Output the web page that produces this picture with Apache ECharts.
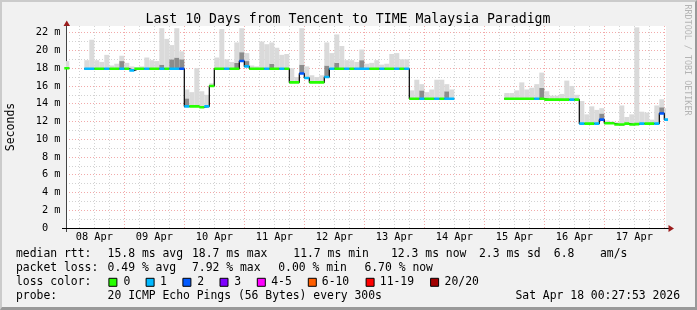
<!DOCTYPE html>
<html><head><meta charset="utf-8">
<script src="https://cdn.jsdelivr.net/npm/echarts@6/dist/echarts.min.js"></script>
<style>
html,body{margin:0;padding:0;background:#f1f1f1;}
#frame{position:absolute;left:0;top:0;width:697px;height:310px;box-sizing:border-box;border-top:2px solid #cbcbcb;border-left:2px solid #cbcbcb;border-right:2px solid #999;border-bottom:3px solid #999;background:#f1f1f1;}
#c{position:absolute;left:0;top:0;width:697px;height:310px;}
</style>
</head><body><div id="frame"></div><div id="c"></div>
<script>
// ---- data: 2-hour bins starting 08 Apr 00:00 (hours since then) ----
const binHours = 2;
const median = [
 18.0, null, null, null, 17.93, 17.93, 17.93, 17.93, 17.93, 17.93, 17.93, 17.93,
 17.93, 17.75, 17.93, 17.93, 17.93, 17.93, 17.93, 17.93, 17.93, 17.93, 17.93, 17.93,
 13.7, 13.7, 13.7, 13.6, 13.7, 16.0, 17.93, 17.93, 17.93, 17.93, 17.93, 18.8,
 18.2, 17.93, 17.93, 17.93, 17.93, 17.93, 17.93, 17.93, 17.93, 16.4, 16.4, 17.4,
 16.9, 16.4, 16.4, 16.4, 17.0, 17.93, 17.93, 17.93, 17.93, 17.93, 17.93, 17.93,
 17.93, 17.93, 17.93, 17.93, 17.93, 17.93, 17.93, 17.93, 17.93, 14.55, 14.55, 14.55,
 14.55, 14.55, 14.55, 14.55, 14.55, 14.55, null, null, null, null, null, null,
 null, null, null, null, 14.55, 14.55, 14.55, 14.55, 14.55, 14.55, 14.55, 14.55,
 14.46, 14.46, 14.46, 14.46, 14.46, 14.46, 14.46, 11.75, 11.75, 11.75, 11.75, 12.2,
 11.8, 11.8, 11.65, 11.65, 11.75, 11.65, 11.7, 11.75, 11.75, 11.75, 11.75, 12.9,
 12.2
];
const lossIdx = [
 0, 0, 0, 0, 1, 1, 0, 0, 1, 0, 0, 1,
 0, 1, 0, 0, 1, 0, 0, 1, 0, 1, 1, 2,
 1, 0, 0, 0, 1, 0, 0, 0, 1, 0, 0, 2,
 1, 0, 0, 0, 1, 0, 0, 1, 0, 0, 0, 2,
 1, 0, 0, 0, 1, 1, 0, 0, 1, 0, 1, 1,
 1, 0, 0, 1, 0, 0, 1, 0, 1, 0, 0, 1,
 0, 0, 1, 0, 1, 1, 0, 0, 0, 0, 0, 0,
 0, 0, 0, 0, 0, 0, 0, 0, 0, 0, 1, 0,
 0, 0, 0, 0, 0, 1, 0, 1, 0, 0, 1, 2,
 0, 0, 0, 0, 0, 0, 0, 1, 0, 0, 1, 2,
 1
];
const smokeMax = [
 18.8, null, null, null, 18.9, 21.2, 18.9, 18.7, 19.5, 18.3, 18.5, 19.4,
 18.6, 18.2, 18.1, 18.2, 19.2, 18.9, 18.8, 22.5, 21.3, 20.6, 22.5, 19.9,
 15.6, 15.3, 18.0, 15.4, 15.0, 16.3, 19.2, 22.4, 19.0, 18.7, 20.9, 22.5,
 19.7, 18.3, 18.2, 21.0, 20.7, 20.9, 20.3, 19.5, 19.6, 18.0, 17.0, 22.5,
 18.2, 17.2, 17.0, 17.2, 20.9, 19.7, 21.8, 20.5, 18.9, 18.9, 18.7, 20.1,
 18.5, 18.6, 18.9, 18.4, 18.5, 19.6, 19.7, 19.0, 19.0, 15.5, 16.7, 16.2,
 15.3, 15.6, 16.7, 16.7, 16.2, 15.6, null, null, null, null, null, null,
 null, null, null, null, 15.2, 15.2, 15.5, 16.4, 15.6, 15.8, 16.2, 17.5,
 15.4, 14.9, 14.9, 15.1, 16.6, 16.0, 15.0, 14.3, 12.8, 13.7, 13.3, 13.5,
 12.1, 12.0, 11.9, 13.8, 12.5, 12.8, 22.6, 13.1, 13.0, 12.2, 13.8, 14.5,
 13.5
];
const smokeDark = [
 0, 0, 0, 0, 0, 0, 0, 0, 0, 0, 0, 18.8,
 0, 0, 0, 0, 0, 0, 0, 18.4, 0, 19.0, 19.2, 19.0,
 14.6, 0, 0, 0, 0, 0, 0, 0, 0, 0, 18.6, 19.8,
 18.8, 0, 0, 0, 0, 18.5, 0, 0, 0, 0, 0, 18.4,
 0, 0, 0, 0, 18.3, 0, 18.6, 0, 0, 0, 0, 18.9,
 0, 0, 0, 0, 0, 0, 0, 0, 0, 0, 0, 15.5,
 0, 0, 0, 0, 15.4, 0, 0, 0, 0, 0, 0, 0,
 0, 0, 0, 0, 0, 0, 0, 0, 0, 0, 0, 15.8,
 0, 0, 0, 0, 0, 0, 0, 0, 0, 0, 0, 12.9,
 0, 0, 0, 0, 0, 0, 0, 0, 0, 0, 0, 13.6,
 0
];
const lossColors = ['#26ff00', '#00b8ff', '#0059ff', '#7e00ff', '#ff00ff', '#ff5e00', '#ff0000', '#a10000'];
const lossLabels = ['0', '1', '2', '3', '4-5', '6-10', '11-19', '20/20'];
const xLabels = ['08 Apr', '09 Apr', '10 Apr', '11 Apr', '12 Apr', '13 Apr', '14 Apr', '15 Apr', '16 Apr', '17 Apr'];
const xLabelHours = [12, 36, 60, 84, 108, 132, 156, 180, 204, 228];
const dayLineHours = [24, 48, 72, 96, 120, 144, 168, 192, 216, 240];
const minorLineHours = [6, 12, 18, 30, 36, 42, 54, 60, 66, 78, 84, 90, 102, 108, 114, 126, 132, 138,
  150, 156, 162, 174, 180, 186, 198, 204, 210, 222, 228, 234];
const xMin = 0.68, xMax = 240.68;
const yMax = 22.75;
const titleText = 'Last 10 Days from Tencent to TIME Malaysia Paradigm';
const legendRows = [
  [[16, 'median rtt:'], [107.6, '15.8 ms avg'], [192, '18.7 ms max'], [293.3, '11.7 ms min'], [391, '12.3 ms now'], [479, '2.3 ms sd'], [553.8, '6.8'], [600, 'am/s']],
  [[16, 'packet loss:'], [107.6, '0.49 % avg'], [192, '7.92 % max'], [278.2, '0.00 % min'], [364.4, '6.70 % now']],
  [[16, 'loss color:']],
  [[16, 'probe:'], [107.6, '20 ICMP Echo Pings (56 Bytes) every 300s']]
];
const dateText = 'Sat Apr 18 00:27:53 2026';

// ---- build series ----
const MONO = 'DejaVu Sans Mono';
const MAJOR = '#f2aaaa', MINOR = '#d2d2d2';
const smokeD = [], stepD = [];
const colorD = lossColors.map(() => []);
median.forEach((m, k) => {
  const x0 = k * binHours;
  if (m == null) { stepD.push([x0, '-']); return; }
  const d = smokeDark[k] > m ? smokeDark[k] : m;
  smokeD.push([x0, m, d, Math.max(smokeMax[k], d)]);
  stepD.push([x0, m], [x0 + binHours, m]);
  colorD[lossIdx[k]].push([x0, m], [x0 + binHours, m], [x0 + binHours, '-']);
});
const vGrid = dayLineHours.map(h => [h, 1]).concat(minorLineHours.map(h => [h, 0]));

const series = [
  {
    type: 'custom', z: 1, silent: true, clip: false, data: vGrid,
    renderItem(params, api) {
      const x = api.value(0);
      const p0 = api.coord([x, 0]), p1 = api.coord([x, yMax]);
      const px = Math.round(p0[0]) + 0.5;
      return { type: 'line', shape: { x1: px, y1: p0[1], x2: px, y2: p1[1] },
        style: { stroke: api.value(1) ? MAJOR : MINOR, lineWidth: 1, lineDash: [1, 2] } };
    }
  },
  {
    type: 'custom', z: 2, silent: true, data: smokeD, encode: { x: 0, y: 3 },
    renderItem(params, api) {
      const cs = params.coordSys;
      const x0 = api.value(0), m = api.value(1), d = api.value(2), mx = api.value(3);
      const pM = api.coord([x0, m]), pD = api.coord([x0, d]), pX = api.coord([x0 + binHours, mx]);
      const left = Math.max(pM[0], cs.x), right = Math.min(pX[0], cs.x + cs.width);
      if (right <= left) return null;
      const kids = [];
      if (pM[1] - pD[1] > 0.01) kids.push({ type: 'rect', shape: { x: left, y: pD[1], width: right - left, height: pM[1] - pD[1] }, style: { fill: '#8c8c8c' } });
      if (pD[1] - pX[1] > 0.01) kids.push({ type: 'rect', shape: { x: left, y: pX[1], width: right - left, height: pD[1] - pX[1] }, style: { fill: '#dadada' } });
      return { type: 'group', children: kids };
    }
  },
  { type: 'line', z: 3, data: stepD, symbol: 'none', lineStyle: { color: '#000', width: 1.2 }, silent: true }
].concat(colorD.map((d, i) => ({
  type: 'line', z: 4, data: d, symbol: 'none', lineStyle: { color: lossColors[i], width: 2.6 }, silent: true
})));

// ---- graphics: texts, legend boxes, arrows ----
const graphics = [];
graphics.push({ type: 'text', x: 348, y: 19.5, style: { text: titleText, font: '13.2px "' + MONO + '"', fill: '#000', align: 'center', verticalAlign: 'middle' } });
graphics.push({ type: 'text', x: 11.5, y: 127, rotation: Math.PI / 2, style: { text: 'Seconds', font: '11.5px "' + MONO + '"', fill: '#000', align: 'center', verticalAlign: 'middle' } });
graphics.push({ type: 'text', x: 687, y: 60, rotation: -Math.PI / 2, style: { text: 'RRDTOOL / TOBI OETIKER', font: '8.4px "' + MONO + '"', fill: '#b4b4b4', align: 'center', verticalAlign: 'middle' } });
const rowY = [254.5, 268, 282.3, 296];
legendRows.forEach((row, r) => row.forEach(([x, t]) => graphics.push({
  type: 'text', x: x, y: rowY[r], style: { text: t, font: '11.4px "' + MONO + '"', fill: '#000', align: 'left', verticalAlign: 'middle' } })));
graphics.push({ type: 'text', x: 680, y: rowY[3], style: { text: dateText, font: '11.4px "' + MONO + '"', fill: '#000', align: 'right', verticalAlign: 'middle' } });
const boxX = [108.4, 145.6, 182.4, 219.5, 256.8, 307.8, 365.6, 430.1];
const boxLabelX = [123.5, 160, 197.2, 234.3, 271.2, 321.8, 379.8, 444.6];
lossColors.forEach((col, i) => {
  graphics.push({ type: 'rect', shape: { x: boxX[i] + 0.5, y: rowY[2] - 4, width: 8, height: 8 }, style: { fill: col, stroke: '#000', lineWidth: 1 } });
  graphics.push({ type: 'text', x: boxLabelX[i], y: rowY[2], style: { text: lossLabels[i], font: '11.4px "' + MONO + '"', fill: '#000', align: 'left', verticalAlign: 'middle' } });
});
graphics.push({ type: 'polygon', shape: { points: [[63.5, 26], [70, 26], [66.75, 20.5]] }, style: { fill: '#9b1c1c' } });
graphics.push({ type: 'line', shape: { x1: 666, y1: 228.5, x2: 669, y2: 228.5 }, style: { stroke: '#000', lineWidth: 1 } });
graphics.push({ type: 'polygon', shape: { points: [[668.5, 225], [668.5, 232], [674, 228.5]] }, style: { fill: '#9b1c1c' } });
graphics.push({ type: 'line', shape: { x1: 62, y1: 228.5, x2: 66, y2: 228.5 }, style: { stroke: '#000', lineWidth: 1 } });
graphics.push({ type: 'line', shape: { x1: 66.5, y1: 228, x2: 66.5, y2: 232 }, style: { stroke: '#444', lineWidth: 1 } });

const chart = echarts.init(document.getElementById('c'), null, { renderer: 'canvas' });
chart.setOption({
  animation: false,
  backgroundColor: 'transparent',
  grid: { left: 66, right: 31, top: 26, bottom: 82, containLabel: false,
    show: true, backgroundColor: '#ffffff', borderWidth: 0 },
  xAxis: {
    type: 'value', min: xMin, max: xMax,
    axisLine: { show: true, lineStyle: { color: '#000', width: 1 } },
    axisTick: { show: false },
    splitLine: { show: false },
    axisLabel: {
      customValues: xLabelHours,
      formatter: v => xLabels[xLabelHours.indexOf(v)] || '',
      fontFamily: MONO, fontSize: 10.3, color: '#000', margin: 4
    }
  },
  yAxis: {
    type: 'value', min: 0, max: yMax, interval: 1,
    axisLine: { show: true, lineStyle: { color: '#444', width: 1 } },
    axisTick: { show: false },
    splitLine: { show: true, showMaxLine: false, lineStyle: { color: [MAJOR, MINOR], width: 1, type: [1, 2] } },
    axisLabel: {
      formatter: v => (v === 0 ? '0  ' : (Number.isInteger(v) && v % 2 === 0 ? v + ' m' : '')),
      fontFamily: MONO, fontSize: 10.3, color: '#000', margin: 5.5
    }
  },
  series: series,
  graphic: graphics
});
</script>
</body></html>
